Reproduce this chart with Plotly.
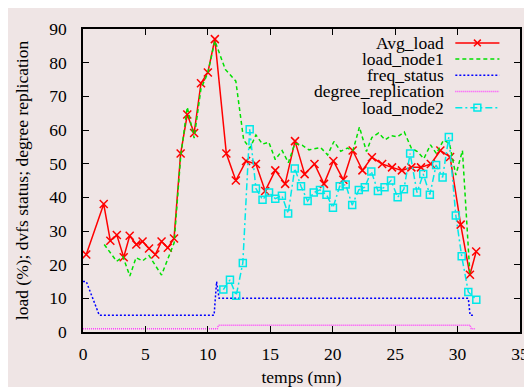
import plotly.graph_objects as go

# ---------------- data ----------------
avg_x = [0.26, 1.66, 2.19, 2.71, 3.26, 3.74, 4.27, 4.77, 5.29, 5.79, 6.29, 6.79, 7.29,
         7.82, 8.35, 8.9, 9.45, 10.0, 10.56, 11.48, 12.24, 13.06, 13.85, 14.59, 15.4,
         16.19, 16.98, 17.75, 18.54, 19.3, 20.05, 20.85, 21.6, 22.38, 23.14, 23.96,
         24.75, 25.54, 26.3, 27.07, 27.86, 28.62, 29.4, 30.25, 30.99, 31.49]
avg_y = [23, 38, 27.1, 28.8, 22.2, 28.6, 26.0, 26.9, 24.8, 23.0, 26.9, 25.0, 27.8,
         53, 64.6, 59.1, 73.9, 77.1, 87, 53, 45, 50.8, 49.9, 41.9, 48,
         44, 56.7, 46.9, 49.9, 44, 50.8, 45.2, 53.9, 48, 51.9, 49.9,
         48.9, 48, 48.9, 48.9, 49.9, 53.9, 52, 31.9, 17, 23.9]

node1_x = [1.7, 2.7, 3.2, 3.75, 4.25, 4.77, 5.29, 6.29, 7.3, 7.82, 8.35, 8.9, 9.45, 10.0,
           10.56, 11.4, 12.24, 12.87, 13.37, 13.85, 14.38, 14.88, 15.4, 15.95, 16.45,
           16.97, 17.55, 18.1, 19.03, 19.59, 20.1, 20.64, 21.17, 21.62, 22.14, 22.7,
           23.14, 23.67, 24.2, 24.67, 25.2, 25.73, 26.3, 26.78, 27.3, 27.83, 28.3,
           28.88, 29.35, 29.86, 30.39, 30.99]
node1_y = [26, 21, 22.4, 16.6, 22.1, 21.1, 22.7, 16.9, 26.5, 52, 66.8, 57.6, 72.3, 77,
           86.5, 78, 74.5, 57, 54.6, 58.5, 55.8, 56.4, 51.2, 53.9, 50.3,
           56, 55.5, 54.1, 54.8, 52.6, 56.6, 53.7, 54.6, 53.9, 60.9, 53.6,
           57.8, 59.1, 57.1, 58.3, 58, 59.4, 54.6, 53.6, 51.5, 55.6, 53,
           57, 56, 46.6, 53.9, 17]

freq_x = [0, 0.26, 1.3, 10.5, 10.7, 10.9, 30.86, 31.0, 31.3]
freq_y = [15, 15, 5, 5, 15, 10, 10, 5, 5]

repl_x = [0, 10.75, 10.85, 31.0, 31.1, 31.4]
repl_y = [1, 1, 2, 2, 1, 1]

node2_x = [11.24, 11.77, 12.27, 12.8, 13.35, 13.85, 14.38, 14.9, 15.4, 15.93, 16.43,
           16.96, 17.46, 17.99, 18.48, 18.98, 19.5, 20.02, 20.56, 21.04, 21.56, 22.09,
           22.57, 23.09, 23.62, 24.15, 24.67, 25.2, 25.7, 26.2, 26.75, 27.25, 27.78,
           28.28, 28.8, 29.3, 29.86, 30.33, 30.86, 31.5]
node2_y = [12.6, 15.5, 10.8, 20.5, 60.2, 42.6, 39.3, 41.4, 39.6, 40.5, 35.2,
           48.6, 43.3, 38.9, 41.4, 42.2, 40.8, 36.9, 43.3, 43.8, 37.7, 42.2,
           43.0, 47.7, 41.9, 43.0, 45.0, 40.0, 42.4, 53.0, 41.4, 46.9, 40.8,
           49.6, 45.9, 57.9, 34.6, 22.5, 11.9, 9.6]

x_ticks = [0, 5, 10, 15, 20, 25, 30, 35]
y_ticks = [0, 10, 20, 30, 40, 50, 60, 70, 80, 90]

# ---------------- styles ----------------
RED = "#ff0000"
GREEN = "#00e000"
BLUE = "#0000ff"
MAGENTA = "#ff40ff"
CYAN = "#00e8e8"
BG = "#efe5e5"
FONT = "Liberation Serif"
FS = 17.5

series = [
    dict(name="Avg_load", x=avg_x, y=avg_y, color=RED, dash="solid", mode="lines+markers",
         symbol="x-thin-open", msize=8),
    dict(name="load_node1", x=node1_x, y=node1_y, color=GREEN, dash="4px,3px", mode="lines",
         symbol=None, msize=0),
    dict(name="freq_status", x=freq_x, y=freq_y, color=BLUE, dash="2px,2px", mode="lines",
         symbol=None, msize=0),
    dict(name="degree_replication", x=repl_x, y=repl_y, color=MAGENTA, dash="1px,1px",
         mode="lines", symbol=None, msize=0),
    dict(name="load_node2", x=node2_x, y=node2_y, color=CYAN, dash="7px,3px,2px,3px",
         mode="lines+markers", symbol="square-open", msize=7),
]

fig = go.Figure()
for s in series:
    kw = dict(x=s["x"], y=s["y"], name=s["name"], mode=s["mode"],
              line=dict(color=s["color"], width=1.5, dash=s["dash"]), showlegend=False)
    if s["symbol"]:
        kw["marker"] = dict(symbol=s["symbol"], size=s["msize"],
                            color=s["color"], line=dict(color=s["color"], width=1.5))
    fig.add_trace(go.Scatter(**kw))

# ---------------- gnuplot-style legend (text left, sample right) ----------------
L, R, T, B = 75, 11, 14, 53
W, H = 532 - L - R, 387 - T - B

def px(xp):
    return (xp - L) / W

def py(yp):
    return (387 - B - yp) / H

shapes = []
annotations = []
row0, rowstep = 28.7, 17.1
for i, s in enumerate(series):
    yy = py(row0 + i * rowstep)
    annotations.append(dict(xref="paper", yref="paper", x=px(444), y=yy, xanchor="right",
                            yanchor="middle", text=s["name"], showarrow=False, borderpad=0,
                            font=dict(family=FONT, size=FS, color="black")))
    shapes.append(dict(type="line", xref="paper", yref="paper", x0=px(455), x1=px(500),
                       y0=yy, y1=yy, line=dict(color=s["color"], width=1.5, dash=s["dash"])))
    if s["symbol"] == "x-thin-open":
        d = 3.5
        shapes.append(dict(type="line", xref="paper", yref="paper", x0=px(477.5 - d),
                           x1=px(477.5 + d), y0=yy - d / H, y1=yy + d / H,
                           line=dict(color=s["color"], width=1.5)))
        shapes.append(dict(type="line", xref="paper", yref="paper", x0=px(477.5 - d),
                           x1=px(477.5 + d), y0=yy + d / H, y1=yy - d / H,
                           line=dict(color=s["color"], width=1.5)))
    elif s["symbol"] == "square-open":
        d = 3.5
        shapes.append(dict(type="rect", xref="paper", yref="paper", x0=px(477.5 - d),
                           x1=px(477.5 + d), y0=yy - d / H, y1=yy + d / H,
                           line=dict(color=s["color"], width=1.5)))

axis_common = dict(showgrid=False, zeroline=False, showline=True, linecolor="black",
                   linewidth=1.5, mirror="ticks", ticks="inside", ticklen=6,
                   tickcolor="black", tickwidth=1.2,
                   tickfont=dict(family=FONT, size=FS, color="black"))

fig.update_layout(
    width=532, height=387,
    margin=dict(l=L, r=R, t=T, b=B),
    paper_bgcolor=BG, plot_bgcolor=BG,
    font=dict(family=FONT, size=FS, color="black"),
    xaxis=dict(range=[0, 35], tickvals=x_ticks, ticklabelstandoff=5,
               title=dict(text="temps (mn)", standoff=8,
                          font=dict(family=FONT, size=FS)), **axis_common),
    yaxis=dict(range=[0, 90], tickvals=y_ticks, ticklabelstandoff=11,
               title=dict(text="load (%); dvfs status; degree replication", standoff=16,
                          font=dict(family=FONT, size=FS)), **axis_common),
    shapes=shapes,
    annotations=annotations,
    showlegend=False,
)

fig.write_html("out.html")
